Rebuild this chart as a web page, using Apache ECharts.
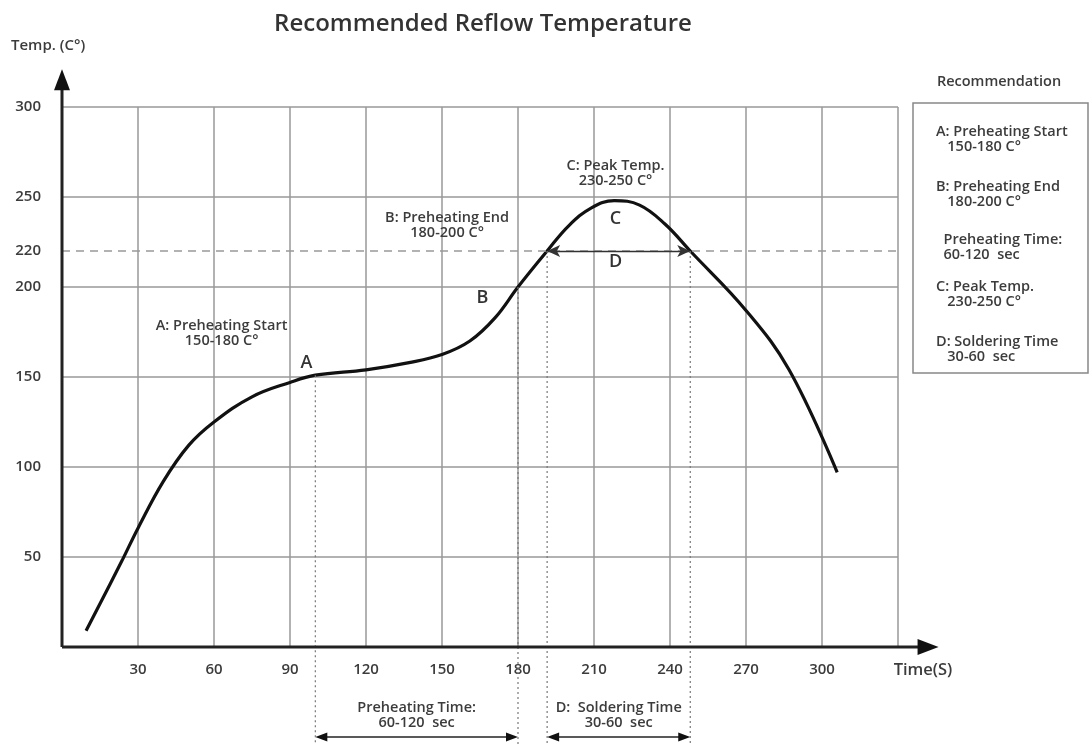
<!DOCTYPE html>
<html>
<head>
<meta charset="utf-8">
<title>Recommended Reflow Temperature</title>
<script src="https://cdn.jsdelivr.net/npm/echarts@6/dist/echarts.min.js"></script>
<style>
html,body{margin:0;padding:0;background:#fff;}
#main{width:1091px;height:747px;}
</style>
</head>
<body>
<div id="main"></div>
<script>
// profile: time (s) and temperature (C)
var curveTime = [9.5, 23.7, 30, 40, 50, 60, 75, 90, 100, 120, 137, 150, 161, 171, 180, 191.5, 200, 209, 218, 228, 238, 248, 270, 287, 306];
var curveTemp = [9, 48, 66, 92, 112, 125, 139, 147, 151, 154, 158, 162.5, 170, 183, 200, 220, 234, 244, 248, 245.5, 235, 220, 187, 154, 97];

var soldTemp = 220;              // dashed reference level
var preheatSpan = [100, 180];    // preheating time window (s)
var solderSpan = [191.5, 248];   // soldering time window (s)

// point letters: [time, temp, text]
var pointLetters = [[96.5, 158, 'A'], [166, 194, 'B'], [218.5, 238, 'C'], [218.5, 214, 'D']];
// annotation blocks on the plot: [time, temp, text]
var notes = [
	[63, 174, 'A: Preheating Start\n150-180 C°'],
	[152, 234, 'B: Preheating End\n180-200 C°'],
	[218.5, 263, 'C: Peak Temp.\n230-250 C°']
];
var recoLines = [
	['A: Preheating Start', '   150-180 C°'],
	['B: Preheating End', '   180-200 C°'],
	['  Preheating Time:', '  60-120  sec'],
	['C: Peak Temp.', '   230-250 C°'],
	['D: Soldering Time', '   30-60  sec']
];
var recoTops = [125, 180, 233, 280, 335];

var FONT = '"Open Sans", sans-serif';
var TXT = '#3c3c3c';

var points = curveTime.map(function(t, i){ return [t, curveTemp[i]]; });

var myChart = echarts.init(document.getElementById('main'));
var option = {
	animation: false,
	backgroundColor: '#fff',
	title: {
		text: 'Recommended Reflow Temperature',
		left: 478, top: 7, textAlign: 'center',
		textStyle: {fontFamily: FONT, fontSize: 24, fontWeight: 600, color: '#333'}
	},
	grid: {left: 62, top: 107, right: 193, bottom: 100},
	xAxis: {
		type: 'value', min: 0, max: 330, interval: 30,
		axisLine: {show: false}, axisTick: {show: false},
		splitLine: {show: true, lineStyle: {color: '#999', width: 1.5}},
		axisLabel: {
			margin: 15, color: TXT, fontFamily: FONT, fontSize: 15, fontWeight: 600,
			formatter: function(v){ return (v === 0 || v === 330) ? '' : v; }
		}
	},
	yAxis: {
		type: 'value', min: 0, max: 300, interval: 50,
		axisLine: {show: false}, axisTick: {show: false},
		splitLine: {show: true, lineStyle: {color: '#999', width: 1.5}},
		axisLabel: {
			margin: 21, color: TXT, fontFamily: FONT, fontSize: 15, fontWeight: 600,
			formatter: function(v){ return v === 0 ? '' : v; }
		}
	},
	series: [{
		type: 'line',
		data: points,
		smooth: 0.4,
		showSymbol: false,
		lineStyle: {color: '#111', width: 3.2},
		markLine: {
			silent: true,
			symbol: ['none', 'none'],
			data: [
				[{coord: [0, soldTemp], label: {show: true, position: 'start', formatter: String(soldTemp), distance: 21, color: TXT, fontFamily: FONT, fontSize: 15, fontWeight: 600}},
				 {coord: [330, soldTemp]}],
				[{coord: [solderSpan[0], soldTemp], symbol: 'arrow', symbolSize: [9, 13], label: {show: false},
				  lineStyle: {color: '#333', type: 'solid', width: 1.4}},
				 {coord: [solderSpan[1], soldTemp], symbol: 'arrow', symbolSize: [9, 13]}]
			],
			lineStyle: {color: '#999', type: [8, 6], width: 1.5}
		}
	}]
};
myChart.setOption(option);

// decorations positioned through the chart's own scales
function px(t, T){ return myChart.convertToPixel({xAxisIndex: 0, yAxisIndex: 0}, [t, T]); }

// temperature where each drop line meets the curve
var dropTemps = {};
dropTemps[preheatSpan[0]] = 151;
dropTemps[preheatSpan[1]] = 200;
dropTemps[solderSpan[0]] = 220;
dropTemps[solderSpan[1]] = 220;

var g = [];
var o = px(0, 0), yTop = px(0, 321), xEnd = px(346, 0);
// axes with arrows
g.push({type: 'line', shape: {x1: o[0], y1: o[1], x2: o[0], y2: yTop[1] + 16}, style: {stroke: '#222', lineWidth: 3}, z: 10});
g.push({type: 'polygon', shape: {points: [[o[0], yTop[1]], [o[0]-8, yTop[1]+21], [o[0]+8, yTop[1]+21]]}, style: {fill: '#111'}, z: 10});
g.push({type: 'line', shape: {x1: o[0], y1: o[1], x2: xEnd[0] - 16, y2: o[1]}, style: {stroke: '#222', lineWidth: 3}, z: 10});
g.push({type: 'polygon', shape: {points: [[xEnd[0], o[1]], [xEnd[0]-21, o[1]-8], [xEnd[0]-21, o[1]+8]]}, style: {fill: '#111'}, z: 10});
g.push({type: 'text', left: 11, top: 38, style: {text: 'Temp. (C°)', font: '600 15px ' + FONT, fill: TXT}});
g.push({type: 'text', x: 923, y: o[1] + 23, style: {text: 'Time(S)', font: '600 16.5px ' + FONT, fill: TXT, textAlign: 'center', textVerticalAlign: 'middle'}});

// dotted drop lines and bottom spans
var arrowY = o[1] + 90;
[preheatSpan[0], preheatSpan[1], solderSpan[0], solderSpan[1]].forEach(function(t){
	var p = px(t, dropTemps[t]);
	g.push({type: 'line', shape: {x1: p[0], y1: p[1], x2: p[0], y2: arrowY + 8}, style: {stroke: '#777', lineWidth: 1.2, lineDash: [2, 3]}, z: 5});
});
function spanArrow(span, label){
	var a = px(span[0], 0)[0], b = px(span[1], 0)[0];
	g.push({type: 'line', shape: {x1: a + 8, y1: arrowY, x2: b - 8, y2: arrowY}, style: {stroke: '#222', lineWidth: 1.3}});
	g.push({type: 'polygon', shape: {points: [[a, arrowY], [a+12, arrowY-4.5], [a+12, arrowY+4.5]]}, style: {fill: '#111'}});
	g.push({type: 'polygon', shape: {points: [[b, arrowY], [b-12, arrowY-4.5], [b-12, arrowY+4.5]]}, style: {fill: '#111'}});
	g.push({type: 'text', x: (a + b) / 2, y: arrowY - 22, style: {text: label, font: '600 14.5px ' + FONT, fill: TXT, textAlign: 'center', textVerticalAlign: 'middle', lineHeight: 15}});
}
spanArrow(preheatSpan, 'Preheating Time:\n60-120  sec');
spanArrow(solderSpan, 'D:  Soldering Time\n30-60  sec');

// notes and letters on the plot
notes.forEach(function(n){
	var p = px(n[0], n[1]);
	g.push({type: 'text', x: p[0], y: p[1], style: {text: n[2], font: '600 14.5px ' + FONT, fill: TXT, textAlign: 'center', textVerticalAlign: 'middle', lineHeight: 15}, z: 6});
});
pointLetters.forEach(function(n){
	var p = px(n[0], n[1]);
	g.push({type: 'text', x: p[0], y: p[1], style: {text: n[2], font: '600 18px ' + FONT, fill: '#333', textAlign: 'center', textVerticalAlign: 'middle'}, z: 6});
});

// recommendation box
g.push({type: 'text', x: 999, y: 82, style: {text: 'Recommendation', font: '600 14.5px ' + FONT, fill: TXT, textAlign: 'center', textVerticalAlign: 'middle'}});
g.push({type: 'rect', shape: {x: 913, y: 103, width: 175, height: 270}, style: {fill: 'none', stroke: '#888', lineWidth: 1.5}});
recoLines.forEach(function(r, i){
	g.push({type: 'text', x: 936, y: recoTops[i], style: {text: r[0] + '\n' + r[1], font: '600 14.5px ' + FONT, fill: TXT, textAlign: 'left', textVerticalAlign: 'top', lineHeight: 14.5}});
});

myChart.setOption({graphic: g});
window.onresize = function(){ myChart.resize(); };
</script>
</body>
</html>
